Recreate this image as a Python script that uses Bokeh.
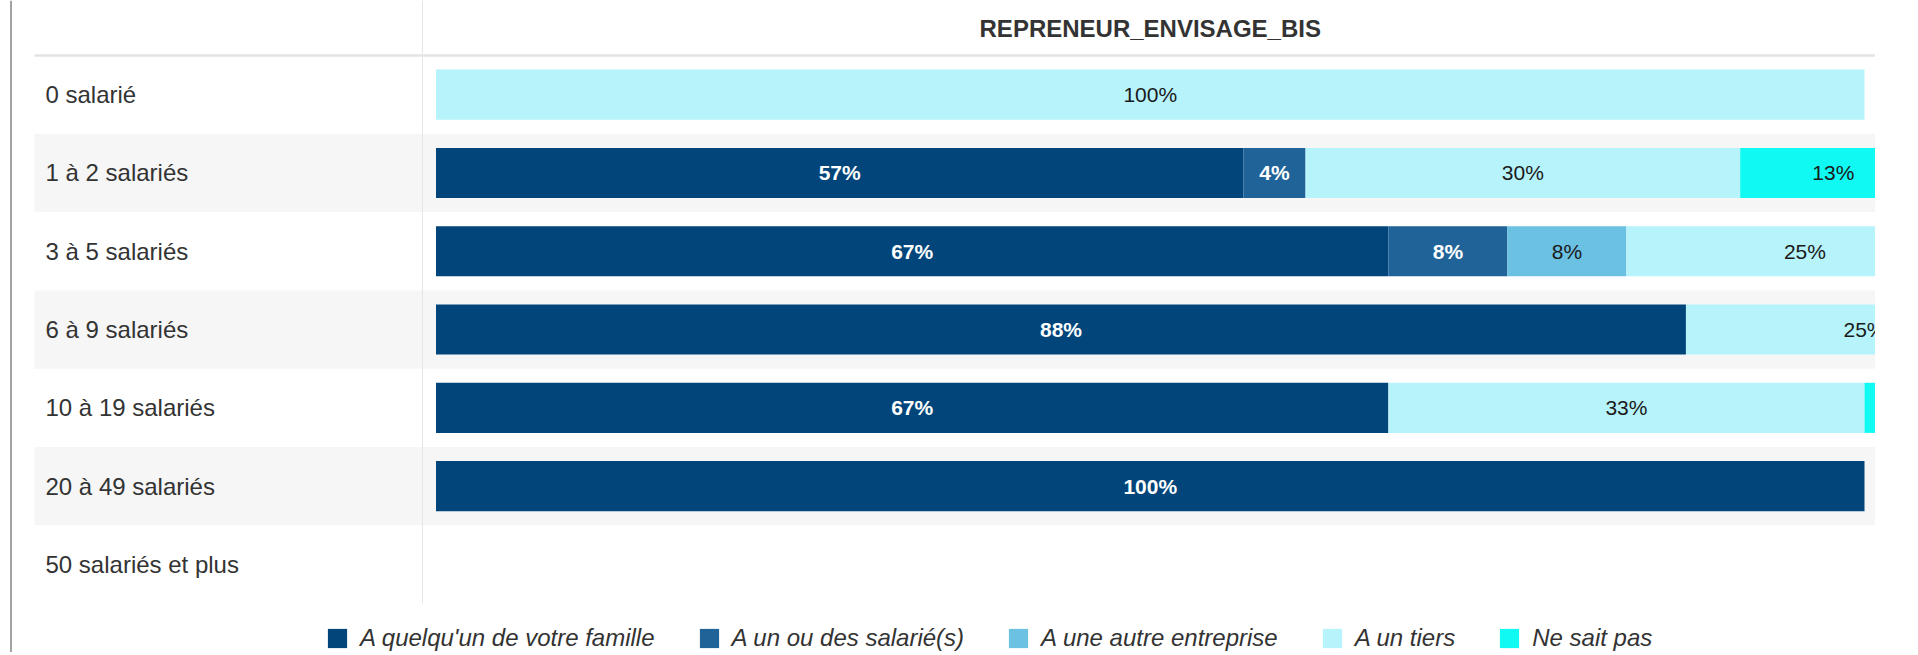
from bokeh.plotting import figure
from bokeh.models import Range1d, Legend, LegendItem
from bokeh.embed import file_html
from bokeh.resources import INLINE
from bokeh.core.properties import value

# ---------------- data ----------------
categories = ["0 salarié", "1 à 2 salariés", "3 à 5 salariés", "6 à 9 salariés",
              "10 à 19 salariés", "20 à 49 salariés", "50 salariés et plus"]
series_names = ["A quelqu'un de votre famille", "A un ou des salarié(s)",
                "A une autre entreprise", "A un tiers", "Ne sait pas"]
famille = [0, 56.52, 66.67, 87.5, 66.67, 100, 0]
salaries = [0, 4.35, 8.33, 0, 0, 0, 0]
autre_entreprise = [0, 0, 8.33, 0, 0, 0, 0]
tiers = [100, 30.43, 25.0, 25.0, 33.33, 0, 0]
ne_sait_pas = [0, 13.04, 0, 0, 33.33, 0, 0]
title_text = "REPRENEUR_ENVISAGE_BIS"

# ---------------- style ----------------
colors = ["#01457a", "#1f6399", "#6bc1e2", "#b7f3fa", "#10f9f3"]
label_colors = ["#ffffff", "#ffffff", "#1a1a1a", "#1a1a1a", "#1a1a1a"]
label_styles = ["bold", "bold", "normal", "normal", "normal"]
FONT_NAME = "Liberation Sans"
FONT = value(FONT_NAME)

# ---------------- layout (page pixels) ----------------
FIG_LEFT, FIG_TOP = 0, 0
W, H = 1875, 652
X0_PAGE, X100_PAGE = 435.5, 1864.0
PX_PER_PCT = (X100_PAGE - X0_PAGE) / 100.0
ROW_TOP, ROW_H = 55.0, 78.3


def px_to_x(px):
    return (px - X0_PAGE) / PX_PER_PCT


def py_to_y(py):
    return (py - ROW_TOP) / ROW_H - 0.5


x_min, x_max = px_to_x(FIG_LEFT), px_to_x(FIG_LEFT + W)
x_range = Range1d(x_min, x_max)
y_range = Range1d(py_to_y(FIG_TOP + H), py_to_y(FIG_TOP))

p = figure(width=W, height=H, x_range=x_range, y_range=y_range,
           output_backend="svg", toolbar_location=None,
           x_axis_location=None, y_axis_location=None,
           min_border=0, outline_line_color=None,
           background_fill_color="white", border_fill_color="white")
p.grid.visible = False

n = len(categories)
rows = list(range(n))

# alternating row bands
band_rows = [i for i in rows if i % 2 == 1]
p.hbar(y=band_rows, left=px_to_x(34), right=px_to_x(1950), height=1.0,
       fill_color="#f6f6f6", line_color=None)

# header separator line
p.segment(x0=[px_to_x(34)], y0=[-0.5], x1=[px_to_x(1950)], y1=[-0.5],
          line_color="#e3e3e3", line_width=2.5)

# vertical divider between label column and bars
p.segment(x0=[px_to_x(422)], y0=[py_to_y(0)], x1=[px_to_x(422)], y1=[n - 0.5],
          line_color="#e6e6e6", line_width=1)

# left container border
p.segment(x0=[px_to_x(10.5)], y0=[py_to_y(0)], x1=[px_to_x(10.5)], y1=[py_to_y(700)],
          line_color="#a3a3a3", line_width=2)

# stacked bars
all_series = [famille, salaries, autre_entreprise, tiers, ne_sait_pas]
cum = [0.0] * n
legend_items = []
for s_idx, vals in enumerate(all_series):
    ys, lefts, rights = [], [], []
    for i, v in enumerate(vals):
        if v > 0:
            ys.append(i)
            lefts.append(cum[i])
            rights.append(cum[i] + v)
    r = p.hbar(y=ys, left=lefts, right=rights, height=0.64,
               fill_color=colors[s_idx], line_color=None)
    legend_items.append(LegendItem(label=series_names[s_idx], renderers=[r]))
    # data labels (only those whose anchor lies inside the plotting area)
    lx, ly, lt = [], [], []
    for y, a, b in zip(ys, lefts, rights):
        c = (a + b) / 2
        if c < x_max:
            lx.append(c)
            ly.append(y)
            lt.append(f"{int(b - a + 0.5)}%")
    p.text(x=lx, y=ly, text=lt, text_align="center", text_baseline="middle",
           text_font=FONT, text_font_size="21px",
           text_font_style=label_styles[s_idx], text_color=label_colors[s_idx])
    for i, v in enumerate(vals):
        cum[i] += v

# category labels
p.text(x=[px_to_x(45)] * n, y=rows, text=categories, text_align="left",
       text_baseline="middle", text_font=FONT, text_font_size="24px",
       text_color="#333333")

# column title
p.text(x=[50], y=[py_to_y(28)], text=[title_text], text_align="center",
       text_baseline="middle", text_font=FONT, text_font_size="24px",
       text_font_style="bold", text_color="#333333")

legend = Legend(items=legend_items, orientation="horizontal",
                location=(325, 0), glyph_width=24, glyph_height=24,
                label_standoff=11, spacing=42, padding=0, margin=0,
                border_line_color=None, background_fill_alpha=0,
                label_text_font=FONT_NAME, label_text_font_size="24px",
                label_text_font_style="italic", label_text_color="#333333")
p.add_layout(legend)

open("out.html", "w").write(file_html(p, INLINE))
